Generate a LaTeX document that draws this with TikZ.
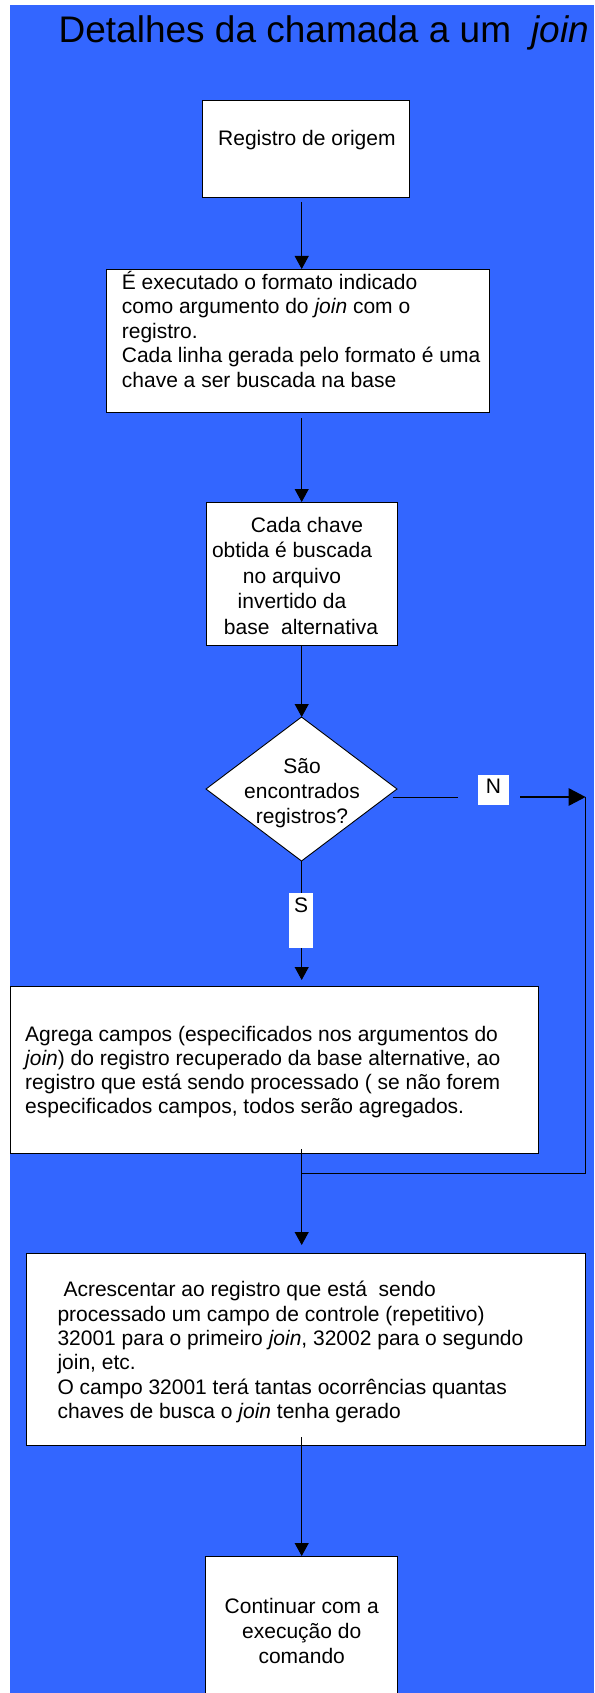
\documentclass[tikz,border=0pt]{standalone}
\usepackage{fontspec}
\setmainfont{Liberation Sans}
\usetikzlibrary{shapes.geometric,arrows.meta}
\definecolor{fundo}{HTML}{3366FF}
\tikzset{
	caixa/.style={draw, fill=white, line width=0.9pt, inner sep=0pt, outer sep=0pt, anchor=north west},
	losango/.style={diamond, draw, fill=white, line width=0.9pt, inner sep=0pt, outer sep=0pt},
	texto/.style={inner sep=0pt, font=\fontsize{21}{24.5}\selectfont},
	rotulo/.style={fill=white, inner sep=0pt, outer sep=0pt},
	linha/.style={line width=0.9pt},
	seta/.style={line width=0.9pt, -{Triangle[length=13pt,width=14pt]}},
	setagrossa/.style={line width=2.7pt, -{Triangle[length=17pt,width=17pt]}},
}
\begin{document}
\begin{tikzpicture}[x=1pt, y=-1pt]
	\useasboundingbox (0,0) rectangle (594,1693);
	\clip (0,0) rectangle (594,1693);
	\fill [white] (0,0) rectangle (594,1693);
	\fill [fundo] (10,5) rectangle (594,1693);
	\node [texto, font=\fontsize{37}{44}\selectfont, anchor=base] (titulo) at (324,43) {Detalhes da chamada a um \ \textit{join}};
	\node [caixa, minimum width=207pt, minimum height=97pt] (origem) at (202,100) {};
	\node [caixa, minimum width=383pt, minimum height=143pt] (formato) at (106,269) {};
	\node [caixa, minimum width=191pt, minimum height=143pt] (chave) at (206,502) {};
	\node [losango, minimum width=191pt, minimum height=144pt] (decisao) at (301.5,789) {};
	\node [caixa, minimum width=528pt, minimum height=167pt] (agrega) at (10,986) {};
	\node [caixa, minimum width=559pt, minimum height=192pt] (acrescentar) at (26,1253) {};
	\node [caixa, minimum width=192pt, minimum height=160pt] (continuar) at (205,1556) {};
	\node [rotulo, texto, text depth=7pt, minimum width=31pt, minimum height=30pt] (rotulon) at (493.5,790) {N};
	\node [rotulo, texto, text depth=30pt, minimum width=24pt, minimum height=55pt] (rotulos) at (301,920.5) {S};
	\coordinate (eixo) at (301.7,0);
	\coordinate (volta) at (585.7,797);
	\coordinate (juncao) at (301.7,1173.3);
	\node [texto, anchor=base west] (origemtxt) at (218,145.7) {Registro de origem};
	\node [texto, anchor=base west, align=left] (formatotxt) at (121.7,387) {É executado o formato indicado\\como argumento do \textit{join} com o\\registro.\\Cada linha gerada pelo formato é uma\\chave a ser buscada na base};
	\node [texto, font=\fontsize{21}{25.5}\selectfont, anchor=base, align=center] (chavetxt) at (292,634) {\hspace*{30pt}Cada chave\\obtida é buscada\\no arquivo\\invertido da\\\hspace*{18pt}base\ \ alternativa};
	\node [texto, font=\fontsize{21}{25}\selectfont, anchor=base, align=center] (decisaotxt) at (302,823) {São\\encontrados\\registros?};
	\node [texto, font=\fontsize{21}{23.9}\selectfont, anchor=base west, align=left] (agregatxt) at (25,1113.3) {Agrega campos (especificados nos argumentos do\\\textit{join}) do registro recuperado da base alternative, ao\\registro que está sendo processado ( se não forem\\especificados campos, todos serão agregados.};
	\node [texto, font=\fontsize{21}{24.3}\selectfont, anchor=base west, align=left] (acrescentartxt) at (57.3,1418.3) {\hspace*{6pt}Acrescentar ao registro que está\ \ sendo\\processado um campo de controle (repetitivo)\\32001 para o primeiro \textit{join}, 32002 para o segundo\\join, etc.\\O campo 32001 terá tantas ocorrências quantas\\chaves de busca o \textit{join} tenha gerado};
	\node [texto, font=\fontsize{21}{25}\selectfont, anchor=base, align=center] (continuartxt) at (301.7,1663) {Continuar com a\\execução do\\comando};
	\draw [seta, shorten <=5pt] (origem.south -| eixo) -- (formato.north -| eixo);
	\draw [seta, shorten <=6pt] (formato.south -| eixo) -- (chave.north -| eixo);
	\draw [seta] (chave.south -| eixo) -- (decisao.north -| eixo);
	\draw [linha] (decisao.south -| eixo) -- (rotulos.north -| eixo);
	\draw [seta, shorten >=6pt] (rotulos.south -| eixo) -- (agrega.north -| eixo);
	\draw [linha, shorten <=-4pt, shorten >=20pt] (decisao.east |- volta) -- (rotulon.west |- volta);
	\draw [setagrossa, shorten <=11pt] (rotulon.east |- volta) -- (volta);
	\draw [linha] (volta) -- (volta |- juncao) -- (juncao);
	\draw [seta, shorten <=-4pt, shorten >=8pt] (agrega.south -| eixo) -- (acrescentar.north -| eixo);
	\draw [seta, shorten <=-8pt] (acrescentar.south -| eixo) -- (continuar.north -| eixo);
\end{tikzpicture}
\end{document}
